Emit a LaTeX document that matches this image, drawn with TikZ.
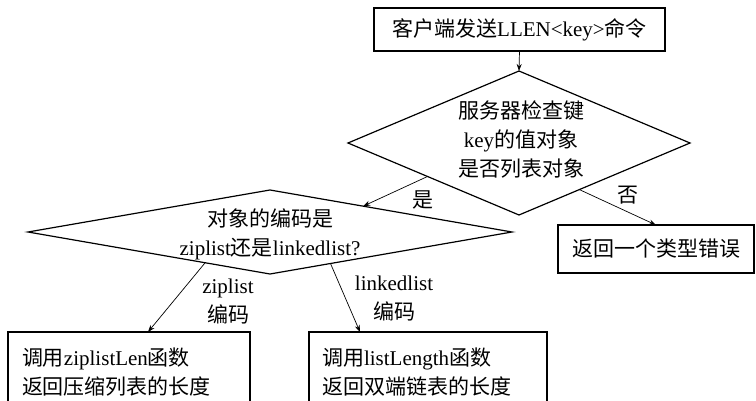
\documentclass[tikz,border=0pt]{standalone}
\usepackage{fontspec}
\setmainfont{Liberation Serif}
\newfontfamily\cjk{Noto Sans CJK SC}
\newcommand\zh[1]{{\cjk #1}}
\usetikzlibrary{shapes.geometric,arrows.meta,calc}
\begin{document}
\begin{tikzpicture}[x=1pt,y=-1pt,
  every node/.style={font=\fontsize{21}{29}\selectfont, inner sep=0pt, outer sep=0pt},
  boxnode/.style={draw, line width=1.1pt, rectangle},
  decision/.style={draw, diamond, line width=1.2pt},
  arr/.style={line width=0.7pt, -{Stealth[length=7pt,width=5pt]}},
  lbl/.style={align=center}]
\useasboundingbox (0,0) rectangle (756,401);
\clip (0,0) rectangle (756,401);
\fill[white] (0,0) rectangle (756,401);
% nodes
\node[boxnode, minimum width=291pt, minimum height=43pt] (top) at (519.5,29.5) {\zh{客户端发送}LLEN<key>\zh{命令}};
\node[decision, minimum width=342pt, minimum height=144pt] (d1) at (519,143) {};
\node[align=center] (d1t) at (521,139) {\zh{服务器检查键}\\key\zh{的值对象}\\\zh{是否列表对象}};
\node[decision, minimum width=484pt, minimum height=84pt] (d2) at (270,232) {};
\node[align=center] (d2t) at (270,234) {\zh{对象的编码是}\\ziplist\zh{还是}linkedlist?};
\node[boxnode, minimum width=196pt, minimum height=48pt] (err) at (656,249) {\zh{返回一个类型错误}};
\node[boxnode, anchor=north west, minimum width=242pt, minimum height=80pt, text width=214pt, inner xsep=14pt, align=left] (b1) at (8,332) {\zh{调用}ziplistLen\zh{函数}\\\zh{返回压缩列表的长度}};
\node[boxnode, anchor=north west, minimum width=238pt, minimum height=80pt, text width=212pt, inner xsep=13pt, align=left] (b2) at (309,332) {\zh{调用}listLength\zh{函数}\\\zh{返回双端链表的长度}};
% connectors
\draw[arr] (top.south) -- (d1.north);
\draw[arr] ($(d1.west)!0.465!(d1.south)$) -- ($(d2.north)!0.385!(d2.east)$);
\draw[arr] ($(d1.east)!0.647!(d1.south)$) -- (err.north);
\draw[arr] ($(d2.west)!0.732!(d2.south)$) -- ([xshift=19pt]b1.north);
\draw[arr] ($(d2.south)!0.25!(d2.east)$) -- ([xshift=-68pt]b2.north);
% labels
\node (lyes) at (423,200) {\zh{是}};
\node (lno) at (628,195) {\zh{否}};
\node[lbl] (lzip) at (228,302) {ziplist\\\zh{编码}};
\node[lbl] (llink) at (394,299) {linkedlist\\\zh{编码}};
\end{tikzpicture}
\end{document}
